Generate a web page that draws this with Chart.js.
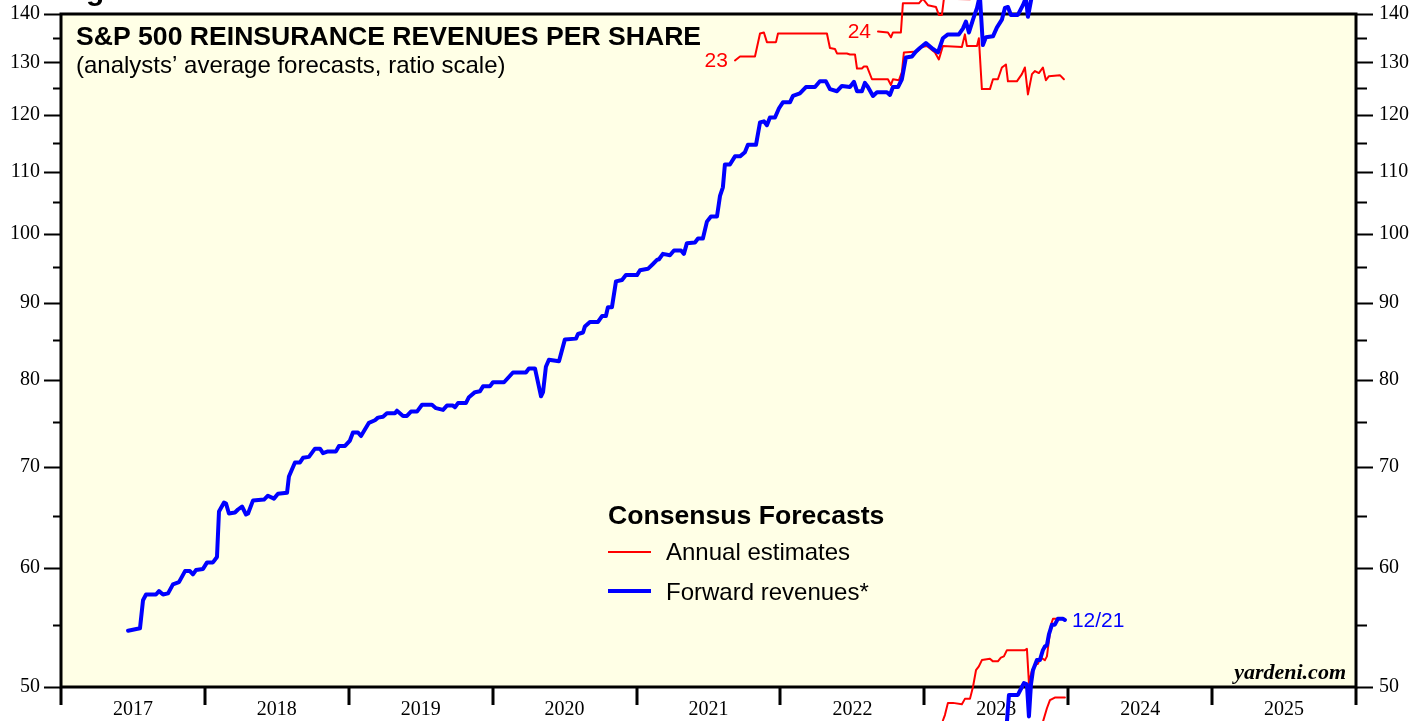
<!DOCTYPE html>
<html>
<head>
<meta charset="utf-8">
<script src="https://cdn.jsdelivr.net/npm/chart.js@4"></script>
<style>
  html, body { margin: 0; padding: 0; background: #fff; }
  canvas { display: block; }
</style>
</head>
<body>
<canvas id="chartRev" width="1427" height="721"></canvas>
<script>
const yearLabels = ["2017", "2018", "2019", "2020", "2021", "2022", "2023", "2024", "2025"];
const yTicks = [50, 60, 70, 80, 90, 100, 110, 120, 130, 140];
const yMinorTicks = [55, 65, 75, 85, 95, 105, 115, 125, 135];

// forward revenues, [year, value]
const fwdRevenues = [
  [2017.466,54.5],[2017.549,54.7],[2017.570,57.1],[2017.591,57.6],[2017.660,57.6],[2017.681,57.9],
  [2017.709,57.6],[2017.744,57.7],[2017.778,58.5],[2017.820,58.7],[2017.862,59.7],[2017.896,59.7],
  [2017.917,59.4],[2017.938,59.8],[2017.987,59.9],[2018.015,60.5],[2018.056,60.5],[2018.084,61.0],
  [2018.098,65.4],[2018.133,66.3],[2018.147,66.2],[2018.167,65.2],[2018.209,65.3],[2018.230,65.6],
  [2018.258,65.9],[2018.286,65.1],[2018.300,65.2],[2018.334,66.5],[2018.411,66.6],[2018.438,67.0],
  [2018.480,66.7],[2018.508,67.2],[2018.571,67.3],[2018.584,69.0],[2018.626,70.5],[2018.661,70.5],
  [2018.682,71.0],[2018.723,71.1],[2018.765,72.0],[2018.800,72.0],[2018.821,71.5],[2018.855,71.7],
  [2018.911,71.7],[2018.932,72.3],[2018.974,72.3],[2019.008,72.9],[2019.029,73.8],[2019.064,73.8],
  [2019.085,73.4],[2019.140,74.9],[2019.182,75.2],[2019.203,75.5],[2019.238,75.6],[2019.265,76.0],
  [2019.321,76.0],[2019.335,76.3],[2019.377,75.7],[2019.404,75.7],[2019.432,76.2],[2019.474,76.2],
  [2019.509,77.0],[2019.578,77.0],[2019.606,76.6],[2019.655,76.4],[2019.682,76.9],[2019.724,76.9],
  [2019.738,76.7],[2019.759,77.2],[2019.814,77.2],[2019.835,77.9],[2019.877,78.5],[2019.912,78.6],
  [2019.933,79.2],[2019.981,79.2],[2020.002,79.7],[2020.079,79.7],[2020.141,80.9],[2020.231,80.9],
  [2020.252,81.4],[2020.294,81.4],[2020.336,78.0],[2020.350,78.5],[2020.370,81.6],[2020.391,82.5],
  [2020.461,82.3],[2020.502,85.1],[2020.579,85.2],[2020.593,85.8],[2020.628,86.0],[2020.641,86.8],
  [2020.676,87.4],[2020.732,87.4],[2020.760,88.2],[2020.787,88.2],[2020.801,89.4],[2020.829,89.4],
  [2020.857,93.0],[2020.899,93.2],[2020.926,93.9],[2021.003,93.9],[2021.024,94.6],[2021.079,94.8],
  [2021.114,95.5],[2021.142,96.1],[2021.156,96.2],[2021.183,97.0],[2021.232,96.8],[2021.260,97.5],
  [2021.309,97.5],[2021.329,97.0],[2021.350,98.6],[2021.406,98.7],[2021.427,99.3],[2021.461,99.3],
  [2021.489,101.9],[2021.517,102.7],[2021.559,102.7],[2021.580,106.0],[2021.600,107.4],[2021.614,111.2],
  [2021.649,111.2],[2021.684,112.6],[2021.719,112.6],[2021.753,113.3],[2021.774,114.6],[2021.830,114.6],
  [2021.858,118.6],[2021.885,118.8],[2021.906,118.1],[2021.927,119.5],[2021.962,119.5],[2021.990,121.2],
  [2022.017,122.3],[2022.066,122.3],[2022.087,123.5],[2022.135,124.0],[2022.177,125.2],[2022.240,125.2],
  [2022.274,126.3],[2022.316,126.3],[2022.344,124.8],[2022.393,124.4],[2022.427,125.4],[2022.483,125.2],
  [2022.511,126.2],[2022.532,124.4],[2022.566,124.4],[2022.587,126.0],[2022.608,125.2],[2022.643,123.5],
  [2022.671,124.2],[2022.740,124.2],[2022.761,123.7],[2022.782,125.2],[2022.817,125.2],[2022.844,126.7],
  [2022.872,131.0],[2022.914,131.2],[2022.942,132.2],[2022.969,132.9],[2023.011,133.9],[2023.060,132.7],
  [2023.095,132.0],[2023.129,134.9],[2023.164,135.7],[2023.240,135.7],[2023.268,136.9],[2023.289,138.4],
  [2023.310,136.1],[2023.338,138.8],[2023.366,141.3],[2023.386,144.0],[2023.407,133.5],[2023.428,135.1],
  [2023.477,135.3],[2023.504,137.1],[2023.539,138.8],[2023.560,141.3],[2023.581,141.5],[2023.602,139.8],
  [2023.650,139.8],[2023.685,141.9],[2023.706,143.5],[2023.720,139.4],[2023.748,144.0]
];
const fwdRevenuesLow = [
  [2023.574,47.4],[2023.588,49.4],[2023.650,49.4],[2023.678,50.0],[2023.692,50.3],[2023.713,50.2],
  [2023.727,47.8],[2023.741,50.2],[2023.755,51.3],[2023.782,52.1],[2023.803,52.1],[2023.824,52.9],
  [2023.838,53.2],[2023.852,53.3],[2023.866,54.2],[2023.887,55.0],[2023.907,55.0],[2023.928,55.5],
  [2023.963,55.5],[2023.977,55.4]
];

// annual estimates
const est2023 = [
  [2021.684,130.4],[2021.719,131.2],[2021.823,131.2],[2021.858,135.9],[2021.885,136.1],[2021.906,134.1],
  [2021.969,134.1],[2021.983,135.9],[2022.323,135.9],[2022.344,132.9],[2022.379,132.7],[2022.393,131.8],
  [2022.462,131.8],[2022.483,131.6],[2022.518,131.6],[2022.532,128.8],[2022.566,128.8],[2022.580,129.2],
  [2022.601,129.2],[2022.636,126.7],[2022.747,126.7],[2022.768,125.6],[2022.782,126.7],[2022.823,126.5],
  [2022.844,128.1],[2022.858,132.0],[2022.949,132.2],[2022.983,133.1],[2023.018,133.3],[2023.074,132.0],
  [2023.101,130.6],[2023.129,133.3],[2023.261,133.1],[2023.282,135.7],[2023.296,133.3],[2023.366,133.3],
  [2023.379,134.9],[2023.400,124.8],[2023.456,124.8],[2023.477,126.7],[2023.511,126.7],[2023.539,129.0],
  [2023.567,129.6],[2023.581,126.3],[2023.643,126.3],[2023.678,127.7],[2023.699,129.0],[2023.720,123.8],
  [2023.748,127.7],[2023.769,128.3],[2023.796,127.9],[2023.824,129.0],[2023.845,126.5],[2023.866,127.3],
  [2023.942,127.5],[2023.970,126.7]
];
const est2024 = [
  [2022.678,136.3],[2022.747,136.1],[2022.768,135.1],[2022.782,136.1],[2022.837,136.1],[2022.851,142.3],
  [2022.962,142.3],[2022.990,143.3],[2023.025,141.9],[2023.081,141.5],[2023.101,139.8],[2023.122,139.8],
  [2023.136,143.3],[2023.317,143.2]
];
const est2024Low = [
  [2023.129,47.5],[2023.143,47.9],[2023.164,48.8],[2023.199,48.8],[2023.261,48.7],[2023.282,49.1],
  [2023.317,49.1],[2023.338,50.0],[2023.359,51.3],[2023.379,51.6],[2023.400,52.1],[2023.456,52.2],
  [2023.477,52.0],[2023.511,52.0],[2023.532,52.3],[2023.553,52.4],[2023.574,52.9],[2023.699,52.9],
  [2023.713,53.0],[2023.727,50.3],[2023.748,51.3],[2023.755,51.4],[2023.782,51.8],[2023.789,51.8],
  [2023.810,52.3],[2023.838,52.1],[2023.852,52.4],[2023.880,55.0],[2023.894,55.5],[2023.956,55.5],
  [2023.977,55.4]
];
const est2025Low = [
  [2023.824,47.4],[2023.852,48.4],[2023.873,49.0],[2023.907,49.2],[2023.977,49.2]
];

const RED = '#ff0000';
const BLUE = '#0000ff';
const CREAM = '#ffffe6';
const SANS = '"Liberation Sans", Arial, sans-serif';
const SERIF = '"Liberation Serif", "Times New Roman", serif';

function line(data, color, width) {
    return {
        data: data,
        borderColor: color,
        backgroundColor: color,
        borderWidth: width,
        borderJoinStyle: 'round',
        borderCapStyle: 'round',
        pointRadius: 0,
        tension: 0,
        clip: false
    };
}

// y axes: fixed width, no extra padding above/below the plot
function fitY(width) {
    return s => {
        s.width = width;
        s.paddingTop = 0;
        s.paddingBottom = 0;
    };
}

// cream plot background + frame + tick marks
const framePlugin = {
    id: 'frame',
    beforeDraw(chart) {
        const ctx = chart.ctx;
        const a = chart.chartArea;
        ctx.save();
        ctx.fillStyle = '#fff';
        ctx.fillRect(0, 0, chart.width, chart.height);
        ctx.fillStyle = CREAM;
        ctx.fillRect(a.left, a.top, a.right - a.left, a.bottom - a.top);
        ctx.restore();
    },
    beforeDatasetsDraw(chart) {
        const ctx = chart.ctx;
        const a = chart.chartArea;
        const xs = chart.scales.x;
        const ys = chart.scales.y;
        ctx.save();
        ctx.strokeStyle = '#000';
        ctx.lineWidth = 2;
        ctx.beginPath();
        yTicks.forEach(v => {
            const py = Math.round(ys.getPixelForValue(v)) + 0.5;
            ctx.moveTo(a.left - 17, py); ctx.lineTo(a.left, py);
            ctx.moveTo(a.right, py); ctx.lineTo(a.right + 17, py);
        });
        yMinorTicks.forEach(v => {
            const py = Math.round(ys.getPixelForValue(v)) + 0.5;
            ctx.moveTo(a.left - 8, py); ctx.lineTo(a.left, py);
            ctx.moveTo(a.right, py); ctx.lineTo(a.right + 11, py);
        });
        ctx.stroke();
        ctx.lineWidth = 3;
        ctx.beginPath();
        for (let yr = 2017; yr <= 2026; yr++) {
            const px = Math.round(xs.getPixelForValue(yr));
            ctx.moveTo(px, a.bottom); ctx.lineTo(px, a.bottom + 18);
        }
        ctx.stroke();
        ctx.lineWidth = 3;
        ctx.strokeRect(a.left, a.top, a.right - a.left, a.bottom - a.top);
        ctx.restore();
    },
    afterDraw(chart) {
        const ctx = chart.ctx;
        const xs = chart.scales.x;
        const ys = chart.scales.y;
        ctx.save();
        ctx.textBaseline = 'alphabetic';
        ctx.fillStyle = '#000';
        ctx.font = 'bold 30px ' + SANS;
        ctx.fillText('g', 86, 0);

        ctx.font = 'bold 26.6px ' + SANS;
        ctx.fillText('S&P 500 REINSURANCE REVENUES PER SHARE', 76, 45);
        ctx.font = '24px ' + SANS;
        ctx.fillText('(analysts\u2019 average forecasts, ratio scale)', 76, 73);

        // legend
        ctx.font = 'bold 26.6px ' + SANS;
        ctx.fillText('Consensus Forecasts', 608, 524);
        ctx.font = '24px ' + SANS;
        ctx.fillText('Annual estimates', 666, 560);
        ctx.fillText('Forward revenues*', 666, 600);
        ctx.lineWidth = 2;
        ctx.strokeStyle = RED;
        ctx.beginPath(); ctx.moveTo(608, 552); ctx.lineTo(651, 552); ctx.stroke();
        ctx.lineWidth = 4;
        ctx.strokeStyle = BLUE;
        ctx.beginPath(); ctx.moveTo(608, 591); ctx.lineTo(651, 591); ctx.stroke();

        // series labels
        ctx.font = '21px ' + SANS;
        ctx.textBaseline = 'middle';
        ctx.textAlign = 'right';
        ctx.fillStyle = RED;
        ctx.fillText('23', xs.getPixelForValue(est2023[0][0]) - 7, ys.getPixelForValue(est2023[0][1]) + 1);
        ctx.fillText('24', xs.getPixelForValue(est2024[0][0]) - 7, ys.getPixelForValue(est2024[0][1]) + 1);
        ctx.textAlign = 'left';
        ctx.fillStyle = BLUE;
        const last = fwdRevenuesLow[fwdRevenuesLow.length - 1];
        ctx.fillText('12/21', xs.getPixelForValue(last[0]) + 7, ys.getPixelForValue(last[1]) + 1);

        ctx.fillStyle = '#000';
        ctx.textAlign = 'right';
        ctx.textBaseline = 'alphabetic';
        ctx.font = 'italic bold 22px ' + SERIF;
        ctx.fillText('yardeni.com', 1346, 679);
        ctx.restore();
    }
};

const axisFont = { family: SERIF, size: 20 };

const revChart = new Chart(document.getElementById('chartRev').getContext('2d'), {
    type: 'line',
    data: {
        datasets: [
            line(fwdRevenues, BLUE, 4),
            line(fwdRevenuesLow, BLUE, 4),
            line(est2023, RED, 2),
            line(est2024, RED, 2),
            line(est2024Low, RED, 2),
            line(est2025Low, RED, 2)
        ]
    },
    options: {
        responsive: false,
        animation: false,
        events: [],
        layout: { padding: { top: 14, left: 0, right: 0, bottom: 0 } },
        plugins: {
            legend: { display: false },
            tooltip: { enabled: false }
        },
        scales: {
            x: {
                type: 'linear',
                position: 'bottom',
                min: 2017,
                max: 2026,
                afterBuildTicks: s => { s.ticks = yearLabels.map((t, i) => ({ value: 2017.5 + i })); },
                afterFit: s => { s.height = 34; s.paddingLeft = 0; s.paddingRight = 0; },
                grid: { display: false, drawTicks: false },
                border: { display: false },
                ticks: {
                    callback: (v) => yearLabels[Math.floor(v) - 2017],
                    font: axisFont,
                    color: '#000',
                    padding: 11,
                    maxRotation: 0,
                    autoSkip: false
                }
            },
            y: {
                type: 'logarithmic',
                position: 'left',
                min: 50,
                max: 140,
                afterBuildTicks: s => { s.ticks = yTicks.map(v => ({ value: v })); },
                afterFit: fitY(61),
                grid: { display: false, drawTicks: false },
                border: { display: false },
                ticks: { callback: v => String(v), font: axisFont, color: '#000', padding: 21, autoSkip: false }
            },
            y2: {
                type: 'logarithmic',
                position: 'right',
                min: 50,
                max: 140,
                afterBuildTicks: s => { s.ticks = yTicks.map(v => ({ value: v })); },
                afterFit: fitY(71),
                grid: { display: false, drawTicks: false },
                border: { display: false },
                ticks: { callback: v => String(v), font: axisFont, color: '#000', padding: 23, autoSkip: false }
            }
        }
    },
    plugins: [framePlugin]
});
</script>
</body>
</html>
